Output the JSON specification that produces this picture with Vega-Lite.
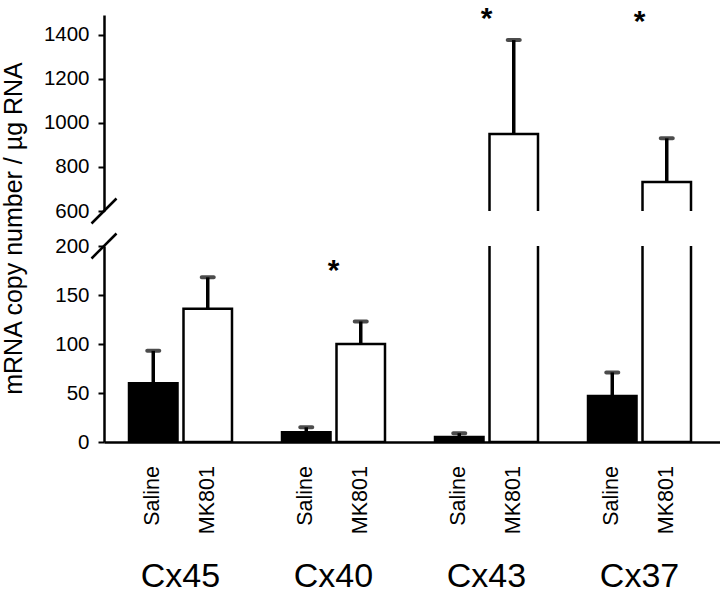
{
  "$schema": "https://vega.github.io/schema/vega-lite/v6.json",
  "padding": {"left": 0, "top": 4, "right": 0, "bottom": 0},
  "background": "white",
  "config": {
    "font": "Liberation Sans",
    "view": {"stroke": null},
    "axis": {"labelFont": "Liberation Sans", "titleFont": "Liberation Sans", "labelColor": "black", "titleColor": "black", "domainColor": "black", "tickColor": "black", "grid": false}
  },
  "datasets": {
    "bars": [
      {"group": "Cx45", "treatment": "Saline", "mean": 60, "upper": 93},
      {"group": "Cx45", "treatment": "MK801", "mean": 136, "upper": 168},
      {"group": "Cx40", "treatment": "Saline", "mean": 10, "upper": 15},
      {"group": "Cx40", "treatment": "MK801", "mean": 100, "upper": 123},
      {"group": "Cx43", "treatment": "Saline", "mean": 5, "upper": 9},
      {"group": "Cx43", "treatment": "MK801", "mean": 950, "upper": 1376},
      {"group": "Cx37", "treatment": "Saline", "mean": 47, "upper": 71},
      {"group": "Cx37", "treatment": "MK801", "mean": 732, "upper": 930}
    ],
    "stars": [
      {"group": "Cx40", "y": 183, "panel": "lower"},
      {"group": "Cx43", "y": 1508, "panel": "upper"},
      {"group": "Cx37", "y": 1495, "panel": "upper"}
    ],
    "breaks": [
      {"panel": "upper", "brk": 600, "pos": 0},
      {"panel": "lower", "brk": 200, "pos": 0}
    ]
  },
  "bounds": "flush",
  "spacing": 35,
  "resolve": {"scale": {"x": "independent", "y": "independent"}},
  "vconcat": [
    {
      "width": 617,
      "height": 196,
      "resolve": {"scale": {"x": "independent"}},
      "layer": [
        {
          "data": {"name": "bars"},
          "mark": {"type": "bar", "clip": true, "stroke": "black", "strokeWidth": 2.5},
          "encoding": {
            "x": {"field": "group", "type": "nominal", "sort": ["Cx45", "Cx40", "Cx43", "Cx37"], "scale": {"type": "band", "paddingInner": 0, "paddingOuter": 0.0163, "align": 0}, "axis": null},
            "xOffset": {"field": "treatment", "type": "nominal", "sort": ["Saline", "MK801"], "scale": {"type": "band", "paddingInner": 0.11, "paddingOuter": 0.459}},
            "y": {"field": "mean", "type": "quantitative", "scale": {"domain": [600, 1490], "nice": false, "zero": false},
              "axis": {"values": [600, 800, 1000, 1200, 1400], "format": "d", "title": "mRNA copy number / µg RNA", "titleFontSize": 25, "titleFontWeight": "normal", "titleAngle": 270, "titleAlign": "center", "titleBaseline": "bottom", "titleX": -78, "titleY": 213, "labelFontSize": 20.5, "labelPadding": 9, "tickSize": 6, "tickWidth": 2, "domainWidth": 2.5}},
            "y2": {"datum": 0},
            "color": {"field": "treatment", "type": "nominal", "scale": {"domain": ["Saline", "MK801"], "range": ["black", "white"]}, "legend": null}
          }
        },
        {
          "data": {"name": "bars"},
          "mark": {"type": "rule", "clip": true, "strokeWidth": 3.5, "color": "black"},
          "encoding": {
            "x": {"field": "group", "type": "nominal", "sort": ["Cx45", "Cx40", "Cx43", "Cx37"], "scale": {"type": "band", "paddingInner": 0, "paddingOuter": 0.0163, "align": 0}, "axis": null},
            "xOffset": {"field": "treatment", "type": "nominal", "sort": ["Saline", "MK801"], "scale": {"type": "band", "paddingInner": 0.11, "paddingOuter": 0.459}},
            "y": {"field": "mean", "type": "quantitative"},
            "y2": {"field": "upper"}
          }
        },
        {
          "data": {"name": "bars"},
          "mark": {"type": "tick", "clip": true, "thickness": 4, "size": 16, "color": "black", "cornerRadius": 2},
          "encoding": {
            "x": {"field": "group", "type": "nominal", "sort": ["Cx45", "Cx40", "Cx43", "Cx37"], "scale": {"type": "band", "paddingInner": 0, "paddingOuter": 0.0163, "align": 0}, "axis": null},
            "xOffset": {"field": "treatment", "type": "nominal", "sort": ["Saline", "MK801"], "scale": {"type": "band", "paddingInner": 0.11, "paddingOuter": 0.459}},
            "y": {"field": "upper", "type": "quantitative"}
          }
        },
        {
          "data": {"name": "stars"},
          "transform": [{"filter": "datum.panel == 'upper'"}],
          "mark": {"type": "text", "text": "*", "fontSize": 30, "fontWeight": "bold", "baseline": "alphabetic", "align": "center", "dy": 17, "color": "black"},
          "encoding": {
            "x": {"field": "group", "type": "nominal", "sort": ["Cx45", "Cx40", "Cx43", "Cx37"], "scale": {"type": "band", "domain": ["Cx45", "Cx40", "Cx43", "Cx37"], "paddingInner": 0, "paddingOuter": 0.0163, "align": 0}, "axis": null},
            "y": {"field": "y", "type": "quantitative"}
          }
        },
        {
          "data": {"name": "breaks"},
          "transform": [{"filter": "datum.panel == 'upper'"}],
          "mark": {"type": "point", "shape": "M-1,1L1,-1", "size": 625, "filled": false, "stroke": "black", "strokeWidth": 2.5, "opacity": 1},
          "encoding": {
            "x": {"field": "pos", "type": "quantitative", "scale": {"domain": [0, 1]}, "axis": null},
            "y": {"field": "brk", "type": "quantitative"}
          }
        }
      ]
    },
    {
      "width": 617,
      "height": 196,
      "resolve": {"scale": {"x": "independent"}},
      "layer": [
        {
          "data": {"name": "bars"},
          "mark": {"type": "bar", "clip": true, "stroke": "black", "strokeWidth": 2.5},
          "encoding": {
            "x": {"field": "group", "type": "nominal", "sort": ["Cx45", "Cx40", "Cx43", "Cx37"], "scale": {"type": "band", "paddingInner": 0, "paddingOuter": 0.0163, "align": 0}, "axis": {"labels": false, "ticks": false, "title": null, "domainWidth": 2.5}},
            "xOffset": {"field": "treatment", "type": "nominal", "sort": ["Saline", "MK801"], "scale": {"type": "band", "paddingInner": 0.11, "paddingOuter": 0.459}},
            "y": {"field": "mean", "type": "quantitative", "scale": {"domain": [0, 200], "nice": false},
              "axis": {"values": [0, 50, 100, 150, 200], "format": "d", "title": null, "labelFontSize": 20.5, "labelPadding": 9, "tickSize": 6, "tickWidth": 2, "domainWidth": 2.5}},
            "y2": {"datum": 0},
            "color": {"field": "treatment", "type": "nominal", "scale": {"domain": ["Saline", "MK801"], "range": ["black", "white"]}, "legend": null}
          }
        },
        {
          "data": {"name": "bars"},
          "mark": {"type": "rule", "clip": true, "strokeWidth": 3.5, "color": "black"},
          "encoding": {
            "x": {"field": "group", "type": "nominal", "sort": ["Cx45", "Cx40", "Cx43", "Cx37"], "scale": {"type": "band", "paddingInner": 0, "paddingOuter": 0.0163, "align": 0}, "axis": null},
            "xOffset": {"field": "treatment", "type": "nominal", "sort": ["Saline", "MK801"], "scale": {"type": "band", "paddingInner": 0.11, "paddingOuter": 0.459}},
            "y": {"field": "mean", "type": "quantitative"},
            "y2": {"field": "upper"}
          }
        },
        {
          "data": {"name": "bars"},
          "mark": {"type": "tick", "clip": true, "thickness": 4, "size": 16, "color": "black", "cornerRadius": 2},
          "encoding": {
            "x": {"field": "group", "type": "nominal", "sort": ["Cx45", "Cx40", "Cx43", "Cx37"], "scale": {"type": "band", "paddingInner": 0, "paddingOuter": 0.0163, "align": 0}, "axis": null},
            "xOffset": {"field": "treatment", "type": "nominal", "sort": ["Saline", "MK801"], "scale": {"type": "band", "paddingInner": 0.11, "paddingOuter": 0.459}},
            "y": {"field": "upper", "type": "quantitative"}
          }
        },
        {
          "data": {"name": "stars"},
          "transform": [{"filter": "datum.panel == 'lower'"}],
          "mark": {"type": "text", "text": "*", "fontSize": 30, "fontWeight": "bold", "baseline": "alphabetic", "align": "center", "dy": 17, "color": "black"},
          "encoding": {
            "x": {"field": "group", "type": "nominal", "sort": ["Cx45", "Cx40", "Cx43", "Cx37"], "scale": {"type": "band", "domain": ["Cx45", "Cx40", "Cx43", "Cx37"], "paddingInner": 0, "paddingOuter": 0.0163, "align": 0}, "axis": null},
            "y": {"field": "y", "type": "quantitative"}
          }
        },
        {
          "data": {"name": "breaks"},
          "transform": [{"filter": "datum.panel == 'lower'"}],
          "mark": {"type": "point", "shape": "M-1,1L1,-1", "size": 625, "filled": false, "stroke": "black", "strokeWidth": 2.5, "opacity": 1},
          "encoding": {
            "x": {"field": "pos", "type": "quantitative", "scale": {"domain": [0, 1]}, "axis": null},
            "y": {"field": "brk", "type": "quantitative"}
          }
        }
      ]
    },
    {
      "width": 617,
      "height": 115,
      "data": {"name": "bars"},
      "layer": [
        {
          "mark": {"type": "text", "angle": 270, "align": "right", "baseline": "middle", "fontSize": 21.5, "dx": 11, "color": "black"},
          "encoding": {
            "x": {"field": "group", "type": "nominal", "sort": ["Cx45", "Cx40", "Cx43", "Cx37"], "scale": {"type": "band", "paddingInner": 0, "paddingOuter": 0.0163, "align": 0}, "axis": null},
            "xOffset": {"field": "treatment", "type": "nominal", "sort": ["Saline", "MK801"], "scale": {"type": "band", "paddingInner": 0.11, "paddingOuter": 0.459}},
            "y": {"datum": "treat", "type": "nominal", "scale": {"type": "point", "domain": ["treat", "group"], "padding": 0}, "axis": null},
            "text": {"field": "treatment"}
          }
        },
        {
          "transform": [{"filter": "datum.treatment == 'Saline'"}],
          "mark": {"type": "text", "align": "center", "baseline": "alphabetic", "fontSize": 34, "dy": -5, "color": "black"},
          "encoding": {
            "x": {"field": "group", "type": "nominal", "sort": ["Cx45", "Cx40", "Cx43", "Cx37"], "scale": {"type": "band", "paddingInner": 0, "paddingOuter": 0.0163, "align": 0}, "axis": null},
            "y": {"datum": "group", "type": "nominal"},
            "text": {"field": "group"}
          }
        }
      ]
    }
  ]
}
